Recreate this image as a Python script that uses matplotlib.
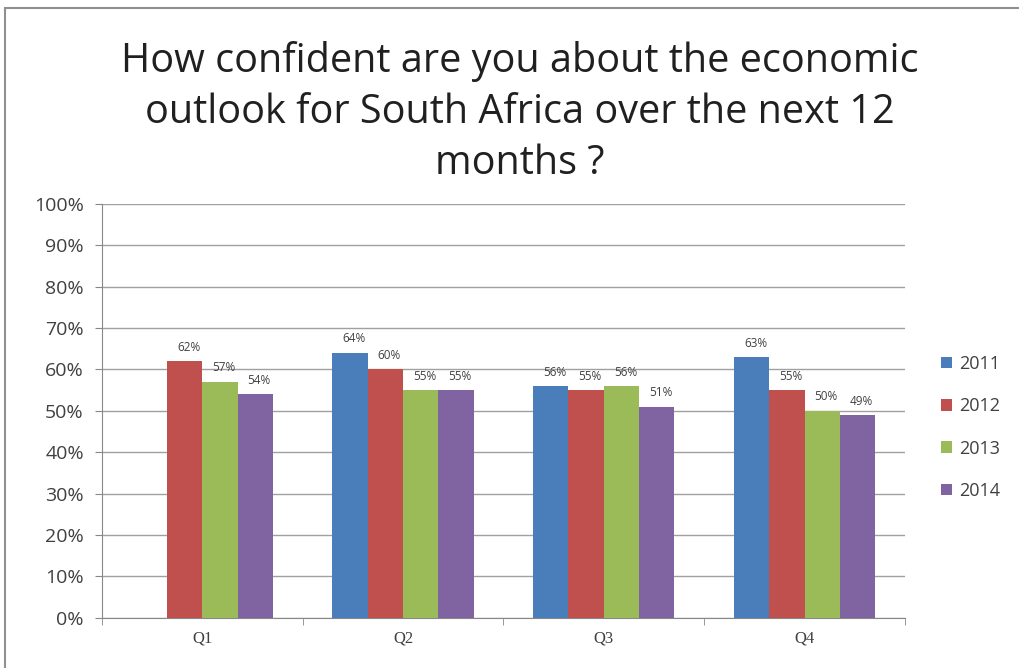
import matplotlib
matplotlib.use("Agg")
import matplotlib.pyplot as plt
import numpy as np
from matplotlib.patches import Rectangle

categories = ["Q1", "Q2", "Q3", "Q4"]
series_names = ["2011", "2012", "2013", "2014"]
v2011 = [np.nan, 64, 56, 63]
v2012 = [62, 60, 55, 55]
v2013 = [57, 55, 56, 50]
v2014 = [54, 55, 51, 49]
values = [v2011, v2012, v2013, v2014]
colors = ["#4a7ebb", "#c0504d", "#9bbb59", "#8064a2"]
yticks = [0, 10, 20, 30, 40, 50, 60, 70, 80, 90, 100]

plt.rcParams['font.family'] = ['Lato', 'DejaVu Sans']
fig = plt.figure(figsize=(10.19, 6.68), dpi=100)
ax = fig.add_axes([0.100, 0.075, 0.788, 0.620])

x = np.arange(len(categories))
w = 0.176
for i, (name, vals, c) in enumerate(zip(series_names, values, colors)):
    offs = (i - 1.5) * w
    xs = x + offs
    vv = np.array(vals, dtype=float)
    mask = ~np.isnan(vv)
    ax.bar(xs[mask], vv[mask], width=w, color=c, label=name, zorder=3)
    for xi, v in zip(xs[mask], vv[mask]):
        ax.text(xi + 0.02, v + 1.8, f"{int(v)}%", ha="center", va="bottom",
                fontsize=8.5, color="#404040", zorder=4, family="Open Sans")

ax.set_xlim(-0.5, 3.5)
ax.set_ylim(0, 100)
ax.set_yticks(yticks)
ax.set_yticklabels([f"{t}%" for t in yticks], fontsize=14, color="#404040",
                   family="Open Sans")
ax.set_xticks(x)
ax.set_xticklabels(categories, fontsize=12, color="#404040", family="Liberation Serif")
ax.set_xticks([-0.5, 0.5, 1.5, 2.5, 3.5], minor=True)
ax.tick_params(axis='x', which='major', length=0, pad=9)
ax.tick_params(axis='x', which='minor', length=5, color="#888888")
ax.tick_params(axis='y', length=5, color="#888888", pad=8)
ax.yaxis.grid(True, color="#a0a0a0", linewidth=1, zorder=0)
for s in ["top", "right"]:
    ax.spines[s].set_visible(False)
ax.spines["left"].set_color("#888888")
ax.spines["bottom"].set_color("#888888")

leg = ax.legend(loc="center left", bbox_to_anchor=(1.025, 0.46), frameon=False,
                prop={"family": "Open Sans", "size": 13}, handlelength=0.6,
                handleheight=0.6, handletextpad=0.4, labelspacing=1.35,
                labelcolor="#404040")

fig.text(0.51, 0.939, "How confident are you about the economic\noutlook for South Africa over the next 12\nmonths ?",
         ha="center", va="top", fontsize=28.5, color="#202020", linespacing=1.35,
         family="Open Sans")

fig.patches.append(Rectangle((0.005, -0.01), 1.2, 0.998, transform=fig.transFigure,
                             fill=False, edgecolor="#909090", linewidth=1.5))

fig.savefig("out.png", dpi=100)
